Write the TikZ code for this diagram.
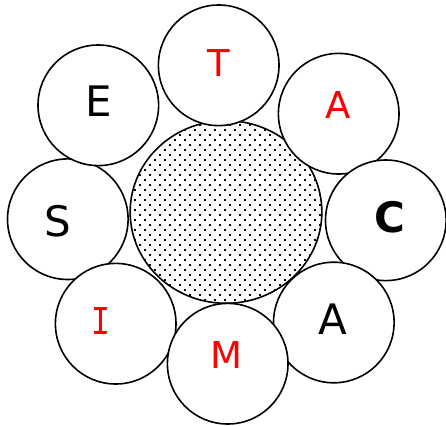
\documentclass[tikz,border=0pt]{standalone}
\usepackage{fontspec}
\setmainfont{DejaVu Sans}
\newfontfamily\monoI{DejaVu Sans Mono}
\usetikzlibrary{patterns,shapes.geometric}
\definecolor{letterred}{RGB}{255,0,0}
\pgfdeclarepatternformonly{hubdots}{\pgfqpoint{-1pt}{-1pt}}{\pgfqpoint{6pt}{6pt}}{\pgfqpoint{10pt}{10pt}}{%
  \pgfpathrectangle{\pgfqpoint{-0.8pt}{-0.8pt}}{\pgfqpoint{1.6pt}{1.6pt}}%
  \pgfpathrectangle{\pgfqpoint{4.2pt}{4.2pt}}{\pgfqpoint{1.6pt}{1.6pt}}%
  \pgfusepath{fill}}
\tikzset{
  ring/.style={circle, draw=black, fill=white, line width=1.6pt, minimum size=120.6pt, inner sep=0pt},
  letter/.style={inner sep=0pt, font=\fontsize{42}{42}\selectfont},
  redletter/.style={inner sep=0pt, font=\fontsize{37}{37}\selectfont, text=letterred},
}
\begin{document}
\begin{tikzpicture}[x=1pt,y=-1pt]
\useasboundingbox (0,0) rectangle (446,425);
% central hub
\node[ellipse, draw=black, line width=1.6pt, minimum width=191.7pt, minimum height=182.6pt, inner sep=0pt, pattern=hubdots] (hub) at (226,212) {};
% outer rings
\node[ring] (cS) at (67.8,219.2) {};
\node[ring] (cI) at (115.7,323.7) {};
\node[ring] (cE) at (98.3,105.3) {};
\node[ring] (cT) at (218.7,65.3) {};
\node[ring] (cA1) at (338.7,113.7) {};
\node[ring] (cC) at (385.8,220.3) {};
\node[ring] (cA2) at (333.8,322.5) {};
\node[ring] (cM) at (227.7,363.7) {};
% letters
\node[redletter] (tT) at (218.8,63.3) {T};
\node[redletter] (tA1) at (338,105.3) {A};
\node[letter, font=\fontsize{42}{42}\selectfont\bfseries] (tC) at (390,217.5) {C};
\node[letter] (tA2) at (333.3,319) {A};
\node[redletter] (tM) at (226.3,355.5) {M};
\node[redletter, font=\fontsize{37}{37}\selectfont\monoI] (tI) at (100.5,321) {\scalebox{0.85}[1]{I}};
\node[letter] (tS) at (57.5,220.8) {S};
\node[letter] (tE) at (98.5,101.3) {E};
\end{tikzpicture}
\end{document}
